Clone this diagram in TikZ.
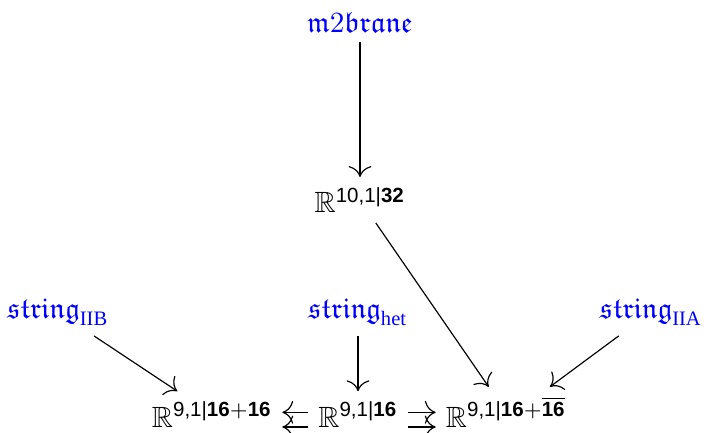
\documentclass[tikz,border=0pt]{standalone}
\usepackage{amsmath,amssymb}
\usepackage{fontspec}
\setmainfont{Liberation Serif}
\setsansfont{Liberation Sans}
\usepackage{tikz}
\usetikzlibrary{arrows.meta, positioning}
\definecolor{mblue}{HTML}{0000FF}
\newcommand{\sfnum}[1]{\textsf{\bfseries #1}}
\tikzset{
  brane/.style={text=mblue, inner sep=3.3pt},
  space/.style={inner sep=3.3pt},
  arr/.style={-{To[scale=1.5]}, thin},
}

\begin{document}
\begin{tikzpicture}[x=0.012cm, y=-0.012cm]
  \useasboundingbox (0,0) rectangle (704,433);
  % sigma models
  \node[brane] (m2) at (360,22) {$\mathfrak{m}2\mathfrak{brane}$};
  \node[brane] (siib) at (58,312) {$\mathfrak{string}_{\mathrm{IIB}}$};
  \node[brane] (shet) at (358,312) {$\mathfrak{string}_{\mathrm{het}}$};
  \node[brane] (siia) at (651,312) {$\mathfrak{string}_{\mathrm{IIA}}$};
  % super spacetimes
  \node[space] (d11) at (360,200) {$\mathbb{R}^{\textsf{10,1|}\sfnum{32}}$};
  \node[space, anchor=base] (riib) at (212,427) {$\mathbb{R}^{\textsf{9,1|}\sfnum{16}+\sfnum{16}}$};
  \node[space, anchor=base] (rhet) at (358,427) {$\mathbb{R}^{\textsf{9,1|}\sfnum{16}}$};
  \node[space, anchor=base] (riia) at (506,427) {$\mathbb{R}^{\textsf{9,1|}\sfnum{16}+\overline{\sfnum{16}}}$};
  % extensions
  \draw[arr] (m2) -- (d11);
  \draw[arr] (d11) -- (riia);
  \draw[arr] (siib) -- (riib);
  \draw[arr] (shet) -- (rhet);
  \draw[arr] (siia) -- ([xshift=15pt]riia.north);
  % double arrows
  \draw[arr] ([yshift=5pt]rhet.base west) -- ([yshift=5pt]riib.base east);
  \draw[arr] (rhet.base west) -- (riib.base east);
  \draw[arr] ([yshift=5pt]rhet.base east) -- ([yshift=5pt]riia.base west);
  \draw[arr] (rhet.base east) -- (riia.base west);
\end{tikzpicture}
\end{document}
